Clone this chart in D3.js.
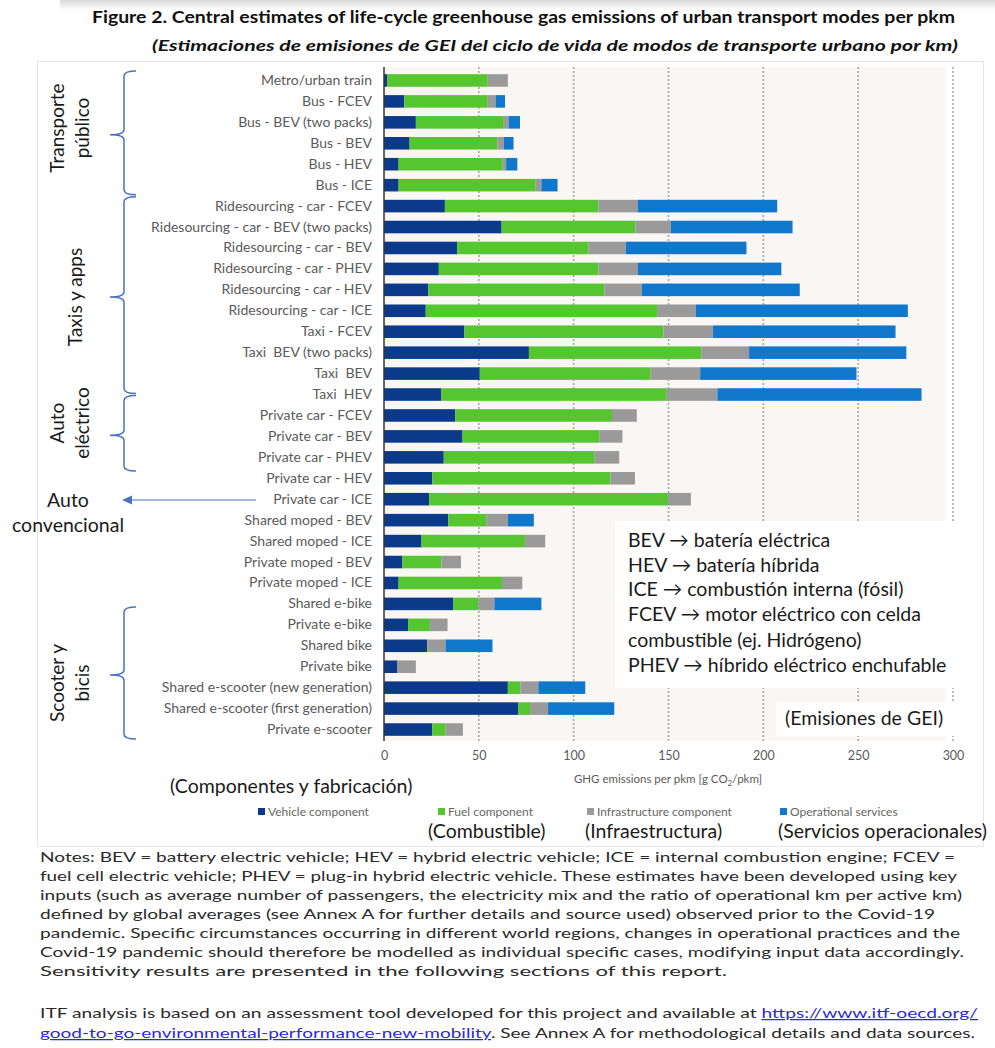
<!DOCTYPE html>
<html>
<head>
<meta charset="utf-8">
<script src="https://cdn.jsdelivr.net/npm/d3@7"></script>
<style>
  html, body { margin: 0; padding: 0; background: #ffffff; }
  svg { display: block; }
  text { font-family: Lato, "Open Sans", sans-serif; }
</style>
</head>
<body>
<svg id="chart" width="995" height="1048"></svg>
<script>
// Life-cycle GHG emissions per passenger-km, by component (g CO2/pkm)
const categories = [
  "Metro/urban train", "Bus - FCEV", "Bus - BEV (two packs)", "Bus - BEV", "Bus - HEV", "Bus - ICE",
  "Ridesourcing - car - FCEV", "Ridesourcing - car - BEV (two packs)", "Ridesourcing - car - BEV",
  "Ridesourcing - car - PHEV", "Ridesourcing - car - HEV", "Ridesourcing - car - ICE",
  "Taxi - FCEV", "Taxi  BEV (two packs)", "Taxi  BEV", "Taxi  HEV",
  "Private car - FCEV", "Private car - BEV", "Private car - PHEV", "Private car - HEV", "Private car - ICE",
  "Shared moped - BEV", "Shared moped - ICE", "Private moped - BEV", "Private moped - ICE",
  "Shared e-bike", "Private e-bike", "Shared bike", "Private bike",
  "Shared e-scooter (new generation)", "Shared e-scooter (first generation)", "Private e-scooter"
];
const vehicleComponent = [
  1.8, 10.7, 16.8, 13.5, 7.7, 7.7,
  32.1, 62.0, 38.6, 28.9, 23.4, 22.0,
  42.4, 76.4, 50.5, 30.3,
  37.6, 41.4, 31.5, 25.5, 23.8,
  33.9, 19.8, 9.7, 7.7,
  36.6, 12.7, 22.8, 7.1,
  65.3, 70.9, 25.5
];
const fuelComponent = [
  52.9, 44.0, 46.4, 46.3, 54.9, 72.3,
  81.0, 70.5, 69.1, 84.2, 92.8, 122.0,
  104.9, 90.9, 90.1, 118.8,
  82.6, 72.3, 79.6, 93.9, 125.9,
  20.2, 54.5, 20.6, 54.5,
  13.1, 11.5, 0, 0,
  6.6, 6.1, 7.0
];
const infrastructureComponent = [
  10.6, 4.1, 2.5, 3.4, 1.8, 3.0,
  20.8, 18.8, 19.8, 20.8, 19.8, 20.4,
  26.2, 25.2, 26.1, 26.7,
  13.1, 12.0, 12.9, 12.9, 12.1,
  11.2, 10.7, 10.3, 10.7,
  8.5, 9.3, 9.7, 9.7,
  9.5, 9.5, 9.1
];
const operationalServices = [
  0, 5.0, 6.0, 5.1, 5.9, 8.5,
  73.4, 64.1, 63.6, 75.6, 83.2, 111.8,
  96.2, 82.9, 82.4, 107.6,
  0, 0, 0, 0, 0,
  13.7, 0, 0, 0,
  24.8, 0, 24.7, 0,
  24.7, 34.9, 0
];
const xTicks = [0, 50, 100, 150, 200, 250, 300];
const seriesKeys = ["vehicle", "fuel", "infra", "ops"];
const seriesNames = ["Vehicle component", "Fuel component", "Infrastructure component", "Operational services"];
const seriesNamesEs = ["", "(Combustible)", "(Infraestructura)", "(Servicios operacionales)"];
const abbreviations = [
  "BEV \u2192 batería eléctrica",
  "HEV \u2192 batería híbrida",
  "ICE \u2192 combustión interna (fósil)",
  "FCEV \u2192 motor eléctrico con celda",
  "combustible (ej. Hidrógeno)",
  "PHEV \u2192 híbrido eléctrico enchufable"
];
const noteLines = [
  "Notes: BEV = battery electric vehicle; HEV = hybrid electric vehicle; ICE = internal combustion engine; FCEV =",
  "fuel cell electric vehicle; PHEV = plug-in hybrid electric vehicle. These estimates have been developed using key",
  "inputs (such as average number of passengers, the electricity mix and the ratio of operational km per active km)",
  "defined by global averages (see Annex A for further details and source used) observed prior to the Covid-19",
  "pandemic. Specific circumstances occurring in different world regions, changes in operational practices and the",
  "Covid-19 pandemic should therefore be modelled as individual specific cases, modifying input data accordingly.",
  "Sensitivity results are presented in the following sections of this report."
];

const colors = { vehicle: "#0b3a8a", fuel: "#55c530", infra: "#9a9a9a", ops: "#0f77cc" };
const blue = "#4a72c4";
const bigFont = 19.5;

const rows = categories.map((c, i) => ({
  name: c,
  vehicle: vehicleComponent[i],
  fuel: fuelComponent[i],
  infra: infrastructureComponent[i],
  ops: operationalServices[i]
}));

const svg = d3.select("#chart");

// soft shading above the title
const defs = svg.append("defs");
const grad = defs.append("linearGradient").attr("id", "topShade").attr("x1", 0).attr("x2", 0).attr("y1", 0).attr("y2", 1);
grad.append("stop").attr("offset", "0%").attr("stop-color", "#d8d8d8");
grad.append("stop").attr("offset", "100%").attr("stop-color", "#ffffff");
svg.append("rect").attr("x", 60).attr("y", 0).attr("width", 935).attr("height", 10).attr("fill", "url(#topShade)");

// chart frame
svg.append("rect").attr("x", 37.5).attr("y", 61.5).attr("width", 946).attr("height", 785)
  .attr("fill", "none").attr("stroke", "#e6e6e6");

// titles
svg.append("text").attr("x", 92).attr("y", 23).attr("font-size", 17).attr("font-weight", 700)
  .attr("fill", "#111").attr("textLength", 863).attr("lengthAdjust", "spacingAndGlyphs")
  .text("Figure 2. Central estimates of life-cycle greenhouse gas emissions of urban transport modes per pkm");
svg.append("text").attr("x", 152).attr("y", 51).attr("font-size", 16).attr("font-weight", 700)
  .attr("font-style", "italic").attr("fill", "#111").attr("textLength", 806).attr("lengthAdjust", "spacingAndGlyphs")
  .text("(Estimaciones de emisiones de GEI del ciclo de vida de modos de transporte urbano por km)");

// scales
const x = d3.scaleLinear().domain([0, 300]).range([384, 953]);
const y = d3.scaleBand().domain(categories).range([70, 740]).paddingInner(0.4).paddingOuter(0.2);

// plot background
svg.append("rect").attr("x", x(0)).attr("y", 67).attr("width", x(296) - x(0)).attr("height", 674)
  .attr("fill", "#f9f6f4");

// dotted gridlines
svg.append("g").selectAll("line").data(xTicks.filter(t => t > 0)).join("line")
  .attr("x1", d => x(d)).attr("x2", d => x(d)).attr("y1", 67).attr("y2", 741)
  .attr("stroke", "#a8a8a8").attr("stroke-width", 1.6).attr("stroke-dasharray", "2,2");

// stacked bars
const stack = d3.stack().keys(seriesKeys)(rows);
svg.append("g").selectAll("g").data(stack).join("g")
  .attr("fill", d => colors[d.key])
  .selectAll("rect").data(d => d.filter(s => s[1] - s[0] > 0)).join("rect")
  .attr("x", d => x(d[0]))
  .attr("width", d => x(d[1]) - x(d[0]))
  .attr("y", d => y(d.data.name))
  .attr("height", y.bandwidth());

// category axis
const yAxis = svg.append("g").attr("transform", `translate(${x(0)},0)`)
  .call(d3.axisLeft(y).tickSize(0).tickPadding(12));
yAxis.select(".domain").attr("stroke", "#333").attr("stroke-width", 1.5).attr("d", "M0,67V741");
yAxis.selectAll("text").attr("font-family", "Lato, sans-serif").attr("font-size", 14)
  .attr("fill", "#5a5a5a").style("white-space", "pre");

// value axis (labels only)
const xAxis = svg.append("g").attr("transform", "translate(0,751)")
  .call(d3.axisBottom(x).tickValues(xTicks).tickSize(0).tickPadding(0));
xAxis.select(".domain").remove();
xAxis.selectAll("text").attr("font-family", "Lato, sans-serif").attr("font-size", 12.5).attr("fill", "#5a5a5a");

const axisTitle = svg.append("text").attr("x", 668).attr("y", 783).attr("text-anchor", "middle")
  .attr("font-size", 11.5).attr("fill", "#5a5a5a");
axisTitle.append("tspan").text("GHG emissions per pkm [g CO");
axisTitle.append("tspan").attr("font-size", 8).attr("dy", 3).text("2");
axisTitle.append("tspan").attr("dy", -3).text("/pkm]");

svg.append("text").attr("x", 170).attr("y", 793).attr("font-size", bigFont).attr("fill", "#1a1a1a")
  .text("(Componentes y fabricación)");

// legend
const legendX = [258, 438, 587, 780];
const legend = svg.append("g").selectAll("g").data(seriesKeys).join("g")
  .attr("transform", (d, i) => `translate(${legendX[i]},812)`);
legend.append("rect").attr("x", 0).attr("y", -4).attr("width", 7).attr("height", 7).attr("fill", d => colors[d]);
legend.append("text").attr("x", 10).attr("y", 3.5).attr("font-size", 12).attr("fill", "#666")
  .text((d, i) => seriesNames[i]);
legend.append("text").attr("x", (d, i) => i === 1 ? -10 : -2).attr("y", 26).attr("font-size", bigFont)
  .attr("fill", "#1a1a1a").text((d, i) => seriesNamesEs[i]);

// abbreviation key
svg.append("rect").attr("x", 615).attr("y", 521).attr("width", 348).attr("height", 167).attr("fill", "#ffffff");
svg.append("g").selectAll("text").data(abbreviations).join("text")
  .attr("x", 628).attr("y", (d, i) => 547 + i * 24.6 + (i >= 4 ? 1.5 : 0))
  .attr("font-size", bigFont).attr("fill", "#1a1a1a").text(d => d);
svg.append("rect").attr("x", 776).attr("y", 702).attr("width", 188).attr("height", 34).attr("fill", "#ffffff");
svg.append("text").attr("x", 785).attr("y", 725).attr("font-size", bigFont).attr("fill", "#1a1a1a")
  .text("(Emisiones de GEI)");

// group braces
function brace(yTop, yMid, yBot) {
  const xs = 124, xe = 136, xm = 110, r = 5;
  return `M${xe},${yTop} Q${xs},${yTop} ${xs},${yTop + r} L${xs},${yMid - r} Q${xs},${yMid} ${xm},${yMid}` +
    ` Q${xs},${yMid} ${xs},${yMid + r} L${xs},${yBot - r} Q${xs},${yBot} ${xe},${yBot}`;
}
const step = y.step();
const rowEdge = r => 70 + r * step;
const groups = [
  { lines: ["Transporte", "público"], from: 0, to: 6, labelY: 128 },
  { lines: ["Taxis y apps"], from: 6, to: 15.5, labelY: 297 },
  { lines: ["Auto", "eléctrico"], from: 15.5, to: 19.2, labelY: 423 },
  { lines: ["Scooter y", "bicis"], from: 25.6, to: 32, labelY: 683 }
];
const gb = svg.append("g");
groups.forEach(g => {
  const y0 = rowEdge(g.from), y1 = rowEdge(g.to);
  gb.append("path").attr("d", brace(y0 + 1, (y0 + y1) / 2 + 2, y1 - 1))
    .attr("fill", "none").attr("stroke", blue).attr("stroke-width", 1.5);
  const xs = g.lines.length === 1 ? [76] : [58, 83];
  g.lines.forEach((t, i) => {
    gb.append("text").attr("transform", `translate(${xs[i] + 6},${g.labelY}) rotate(-90)`)
      .attr("text-anchor", "middle").attr("font-size", 19).attr("fill", "#1a1a1a").text(t);
  });
});

// conventional car pointer
svg.append("line").attr("x1", 256).attr("x2", 130).attr("y1", 500).attr("y2", 500)
  .attr("stroke", blue).attr("stroke-width", 1.2);
svg.append("path").attr("d", "M122,500 L132,495.5 L132,504.5 Z").attr("fill", blue);
svg.append("text").attr("x", 68).attr("y", 507).attr("text-anchor", "middle").attr("font-size", bigFont)
  .attr("fill", "#1a1a1a").text("Auto");
svg.append("text").attr("x", 68).attr("y", 532).attr("text-anchor", "middle").attr("font-size", bigFont)
  .attr("fill", "#1a1a1a").text("convencional");

// notes
const noteWidths = [915, 917, 922, 895, 920, 924, 687];
const notes = svg.append("g").attr("font-family", "'DejaVu Sans', Verdana, sans-serif").attr("font-size", 12.5).attr("fill", "#2a2a2a");
noteLines.forEach((t, i) => {
  notes.append("text").attr("x", 40).attr("y", 862 + i * 19).text(t)
    .attr("textLength", noteWidths[i]).attr("lengthAdjust", "spacingAndGlyphs");
});
const linkColor = "#2a2ad8";
const l1 = notes.append("text").attr("x", 40).attr("y", 1018);
l1.append("tspan").text("ITF analysis is based on an assessment tool developed for this project and available at ");
l1.append("tspan").attr("fill", linkColor).attr("text-decoration", "underline").text("https://www.itf-oecd.org/");
l1.attr("textLength", 938).attr("lengthAdjust", "spacingAndGlyphs");
const l2 = notes.append("text").attr("x", 40).attr("y", 1038);
l2.append("tspan").attr("fill", linkColor).attr("text-decoration", "underline").text("good-to-go-environmental-performance-new-mobility");
l2.append("tspan").text(". See Annex A for methodological details and data sources.");
l2.attr("textLength", 935).attr("lengthAdjust", "spacingAndGlyphs");
</script>
</body>
</html>
